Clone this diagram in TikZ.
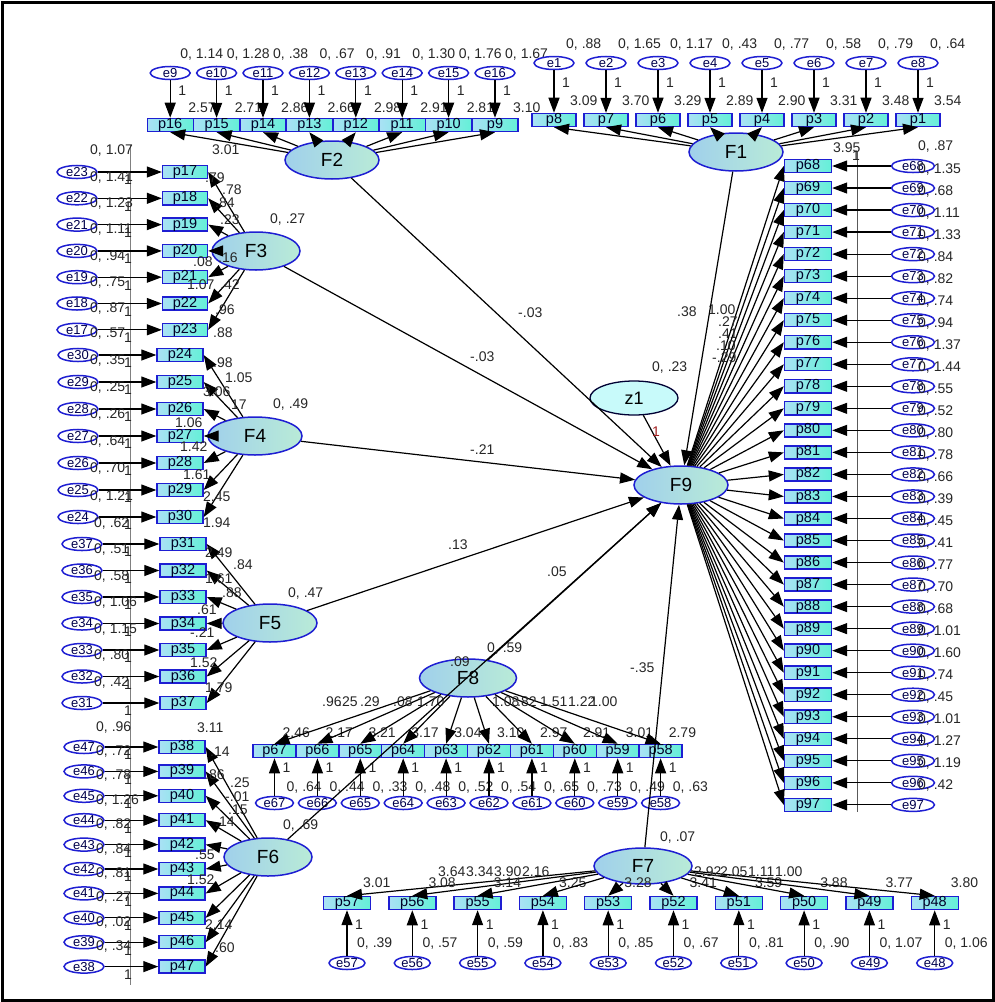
\documentclass[tikz,border=0pt]{standalone}
\usepackage{fontspec}
\setmainfont{Liberation Sans}
\usetikzlibrary{shapes.geometric,arrows.meta}
\definecolor{bblue}{RGB}{30,30,210}
\definecolor{obsL}{RGB}{170,225,245}
\definecolor{obsR}{RGB}{100,240,215}
\definecolor{latL}{RGB}{160,208,235}
\definecolor{latR}{RGB}{185,235,215}
\definecolor{zfill}{RGB}{200,250,250}
\definecolor{onered}{RGB}{160,30,30}
\newcommand\fsl{\fontsize{14}{14}\selectfont}
\begin{document}
\begin{tikzpicture}[x=1pt,y=-1pt,
  obs/.style={rectangle,draw=bblue,line width=1.4pt,left color=obsL,right color=obsR,minimum height=13pt,inner sep=0pt,font=\fontsize{14.5}{14}\selectfont,text=black!85!blue},
  err/.style={ellipse,draw=bblue,line width=1.5pt,fill=white,minimum width=40pt,minimum height=13pt,inner sep=0pt,font=\fontsize{13}{12}\selectfont,text=black!70!blue},
  lat/.style={ellipse,draw=bblue,line width=1.5pt,left color=latL,right color=latR,minimum width=94pt,minimum height=38pt,inner sep=0pt,font=\fontsize{19}{19}\selectfont},
  lb/.style={inner sep=0pt,font=\fsl,anchor=west,text=black!85},
  ar/.style={-{Triangle[length=15pt,width=11pt]},line width=1.2pt}]
\useasboundingbox (0,0) rectangle (995,1002);
\draw[line width=3pt] (2,2) rectangle (993,1000);
\draw[gray,line width=0.6pt] (130,145) -- (130,985);
\draw[gray!70!black,line width=0.6pt] (857,152) -- (857,812);

% ---------- latent variables ----------
\node[lat] (F1) at (736,152) {F1};
\node[lat] (F2) at (332,160) {F2};
\node[lat,minimum width=88pt] (F3) at (256,251) {F3};
\node[lat] (F4) at (255,436) {F4};
\node[lat] (F5) at (270,623) {F5};
\node[lat,minimum width=88pt] (F6) at (268,857) {F6};
\node[lat,minimum width=98pt,minimum height=36pt] (F7) at (643,866) {F7};
\node[lat,minimum width=97pt] (F8) at (468,678) {F8};
\node[lat] (F9) at (681,485) {F9};
\node[ellipse,draw=black!80!blue,line width=1.3pt,fill=zfill,minimum width=88pt,minimum height=34pt,font=\fontsize{18}{18}\selectfont] (z1) at (634,398) {z1};

% ---------- F2 items (top left) ----------
\foreach \k/\v/\ic in {0/1.14/2.57,1/1.28/2.71,2/.38/2.86,3/.67/2.66,4/.91/2.98,5/1.30/2.91,6/1.76/2.81,7/1.67/3.10}{
  \pgfmathsetmacro\cx{170.2+46.4*\k}
  \pgfmathtruncatemacro\pn{16-\k}
  \pgfmathtruncatemacro\en{9+\k}
  \node[obs,minimum width=46pt] (p\pn) at (\cx,125) {p\pn};
  \node[err] (e\en) at (\cx,73) {e\en};
  \node[lb] at (\cx+10,55) {0, \v};
  \node[lb] at (\cx+18,108) {\ic};
  \node[lb] at (\cx+8,91) {1};
  \draw[ar] (e\en) -- (p\pn);
  \draw[ar] (F2) -- (p\pn.south);
}
\node[lb] at (212,150) {3.01};

% ---------- F1 items (top right) ----------
\foreach \k/\v/\ic in {0/.88/3.09,1/1.65/3.70,2/1.17/3.29,3/.43/2.89,4/.77/2.90,5/.58/3.31,6/.79/3.48,7/.64/3.54}{
  \pgfmathsetmacro\cx{554+52*\k}
  \pgfmathtruncatemacro\pn{8-\k}
  \pgfmathtruncatemacro\en{1+\k}
  \node[obs,minimum width=44pt] (p\pn) at (\cx,120) {p\pn};
  \node[err] (e\en) at (\cx,63) {e\en};
  \node[lb] at (\cx+12,45) {0, \v};
  \node[lb] at (\cx+16,101) {\ic};
  \node[lb] at (\cx+8,83) {1};
  \draw[ar] (e\en) -- (p\pn);
  \draw[ar] (F1) -- (p\pn.south);
}
\node[lb] at (833,148) {3.95};

% ---------- F3 items ----------
\foreach \k/\v in {0/1.07,1/1.41,2/1.23,3/1.11,4/.94,5/.75,6/.87}{
  \pgfmathsetmacro\cy{172+26.3*\k}
  \pgfmathtruncatemacro\pn{17+\k}
  \pgfmathtruncatemacro\en{23-\k}
  \node[lb] at (90,\cy-21) {0, \v};
  \node[obs,minimum width=45pt] (p\pn) at (185,\cy) {p\pn};
  \node[err] (e\en) at (77,\cy) {e\en};
  \node[lb] at (124,\cy+8) {1};
  \draw[ar] (e\en) -- (p\pn);
  \draw[ar] (F3) -- (p\pn.east);
}
\foreach \t/\x/\y in {.79/205/178,.78/222/190,.84/215/203,.23/220/220,.08/193/262,.16/218/258,1.07/187/285,.42/220/285,.96/215/310,.88/213/333}{
  \node[lb] at (\x,\y) {\t};
}

% ---------- F4 items ----------
\foreach \k/\v in {0/.57,1/.35,2/.25,3/.26,4/.64,5/.70,6/1.21}{
  \pgfmathsetmacro\cy{355+27*\k}
  \pgfmathtruncatemacro\pn{24+\k}
  \pgfmathtruncatemacro\en{30-\k}
  \node[lb] at (90,\cy-21) {0, \v};
  \node[obs,minimum width=46pt] (p\pn) at (180,\cy) {p\pn};
  \node[err] (e\en) at (78,\cy) {e\en};
  \node[lb] at (124,\cy+8) {1};
  \draw[ar] (e\en) -- (p\pn);
  \draw[ar] (F4) -- (p\pn.east);
}
\foreach \t/\x/\y in {.98/213/363,1.05/225/378,3.06/203/392,.17/227/405,1.06/175/423,1.42/180/447,1.61/183/475,2.45/203/497,1.94/203/523}{
  \node[lb] at (\x,\y) {\t};
}

% ---------- F5 items ----------
\foreach \k/\v in {0/.62,1/.51,2/.58,3/1.06,4/1.15,5/.80,6/.42}{
  \pgfmathsetmacro\cy{544+26.5*\k}
  \pgfmathtruncatemacro\pn{31+\k}
  \pgfmathtruncatemacro\en{37-\k}
  \node[lb] at (94,\cy-21) {0, \v};
  \node[obs,minimum width=46pt] (p\pn) at (183,\cy) {p\pn};
  \node[err] (e\en) at (82,\cy) {e\en};
  \node[lb] at (124,\cy+8) {1};
  \draw[ar] (e\en) -- (p\pn);
  \draw[ar] (F5) -- (p\pn.east);
}
\foreach \t/\x/\y in {2.49/205/553,.84/233/565,1.61/205/579,.88/222/593,.61/197/610,-.21/190/633,1.52/190/663,1.79/205/688}{
  \node[lb] at (\x,\y) {\t};
}

% ---------- F6 items ----------
\foreach \k/\v in {0/.96,1/.72,2/.78,3/1.26,4/.82,5/.84,6/.81,7/.27,8/.02,9/.34}{
  \pgfmathsetmacro\cy{747+24.4*\k}
  \pgfmathtruncatemacro\pn{38+\k}
  \pgfmathtruncatemacro\en{47-\k}
  \node[lb] at (96,\cy-20) {0, \v};
  \node[obs,minimum width=46pt] (p\pn) at (182,\cy) {p\pn};
  \node[err] (e\en) at (84,\cy) {e\en};
  \node[lb] at (124,\cy+8) {1};
  \draw[ar] (e\en) -- (p\pn);
  \draw[ar] (F6) -- (p\pn.east);
}
\foreach \t/\x/\y in {3.11/197/728,.14/210/752,.86/205/775,.25/230/783,-.01/225/797,.15/228/810,.14/215/822,.55/195/855,1.52/187/880,2.14/205/925,.60/215/948}{
  \node[lb] at (\x,\y) {\t};
}

% ---------- F9 items (right column) ----------
\foreach \k/\v in {0/.87,1/1.35,2/.68,3/1.11,4/1.33,5/.84,6/.82,7/.74,8/.94,9/1.37,10/1.44,11/.55,12/.52,13/.80,14/.78,15/.66,16/.39,17/.45,18/.41,19/.77,20/.70,21/.68,22/1.01,23/1.60,24/.74,25/.45,26/1.01,27/1.27,28/1.19,29/.42}{
  \pgfmathsetmacro\cy{166+22.03*\k}
  \pgfmathtruncatemacro\pn{68+\k}
  \node[lb] at (918,\cy-19) {0, \v};
  \node[obs,minimum width=47pt] (p\pn) at (808,\cy) {p\pn};
  \node[err,minimum width=43pt] (e\pn) at (913,\cy) {e\pn};
  \draw[ar] (e\pn) -- (p\pn);
  \draw[ar] (F9) -- (p\pn.west);
}
\node[lb] at (852,156) {1};
\foreach \t/\x/\y in {1.00/708/310,.27/718/322,.41/718/334,.10/716/346,-.29/712/358}{
  \node[lb] at (\x,\y) {\t};
}

% ---------- F8 items ----------
\foreach \k/\v/\ic in {0/.64/2.46,1/.44/2.17,2/.33/3.21,3/.48/3.17,4/.52/3.04,5/.54/3.10,6/.65/2.97,7/.73/2.91,8/.49/3.01,9/.63/2.79}{
  \pgfmathsetmacro\cx{274.5+42.9*\k}
  \pgfmathtruncatemacro\pn{67-\k}
  \node[obs,minimum width=43pt] (p\pn) at (\cx,751) {p\pn};
  \node[err,minimum width=38pt] (e\pn) at (\cx,803) {e\pn};
  \node[lb] at (\cx+12,787) {0, \v};
  \node[lb] at (\cx+8,733) {\ic};
  \node[lb] at (\cx+8,768) {1};
  \draw[ar] (e\pn) -- (p\pn);
  \draw[ar] (F8) -- (p\pn.north);
}
\foreach \t/\x/\y in {.96/322/702,.25/338/702,.29/360/702,.08/393/702,1.70/417/702,1.08/492/702,.82/517/702,1.51/540/702,1.22/568/702,1.00/590/702}{
  \node[lb] at (\x,\y) {\t};
}

% ---------- F7 items ----------
\foreach \k/\v/\ic in {0/.39/3.01,1/.57/3.08,2/.59/3.14,3/.83/3.25,4/.85/3.28,5/.67/3.41,6/.81/3.59,7/.90/3.88,8/1.07/3.77,9/1.06/3.80}{
  \pgfmathsetmacro\cx{347+65.3*\k}
  \pgfmathtruncatemacro\pn{57-\k}
  \node[obs,minimum width=47pt] (p\pn) at (\cx,903) {p\pn};
  \node[err,minimum width=36pt] (e\pn) at (\cx,963) {e\pn};
  \node[lb] at (\cx+10,943) {0, \v};
  \node[lb] at (\cx+16,883) {\ic};
  \node[lb] at (\cx+8,925) {1};
  \draw[ar] (e\pn) -- (p\pn);
  \draw[ar] (F7) -- (p\pn.north);
}
\foreach \t/\x/\y in {3.64/438/872,3.34/466/872,3.90/494/872,2.16/522/872,2.92/694/872,2.05/720/872,1.11/748/872,1.00/775/872}{
  \node[lb] at (\x,\y) {\t};
}

% ---------- structural paths ----------
\draw[ar] (F1) -- (F9);
\draw[ar] (F2) -- (F9);
\draw[ar] (F3) -- (F9);
\draw[ar] (F4) -- (F9);
\draw[ar] (F5) -- (F9);
\draw[ar] (F6) -- (F9);
\draw[ar] (F8) -- (F9);
\draw[ar] (F7) -- (F9);
\draw[ar] (z1) -- (F9);
\node[lb] at (677,312) {.38};
\node[lb] at (518,313) {-.03};
\node[lb] at (470,357) {-.03};
\node[lb] at (470,450) {-.21};
\node[lb] at (448,545) {.13};
\node[lb] at (547,572) {.05};
\node[lb] at (630,668) {-.35};
\node[lb,text=onered] at (652,432) {1};
% variances of latents
\node[lb] at (270,220) {0, .27};
\node[lb] at (273,405) {0, .49};
\node[lb] at (288,593) {0, .47};
\node[lb] at (283,825) {0, .69};
\node[lb] at (487,648) {0, .59};
\node[lb] at (450,662) {.09};
\node[lb] at (660,837) {0, .07};
\node[lb] at (652,368) {0, .23};
\end{tikzpicture}
\end{document}
